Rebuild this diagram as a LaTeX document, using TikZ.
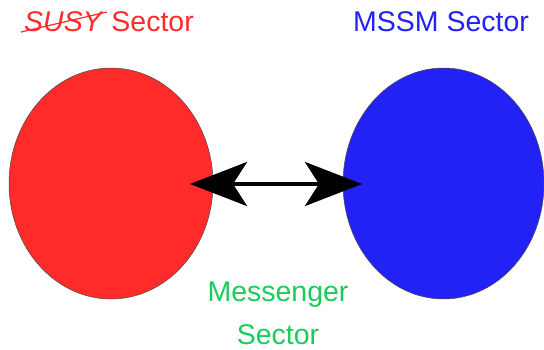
\documentclass[tikz,border=0pt]{standalone}
\usepackage{fontspec}
\setmainfont{Liberation Sans}
\usetikzlibrary{arrows.meta}
\definecolor{sred}{HTML}{FF2A2A}
\definecolor{sblue}{HTML}{2222F6}
\definecolor{sgreen}{HTML}{1BCB5B}
\tikzset{
  sector/.style={draw=black!70, line width=0.5pt},
  label/.style={font=\fontsize{28.5}{34}\selectfont, inner sep=0pt, anchor=base},
  link/.style={line width=4pt, {Stealth[length=57pt,width=44pt,inset=14pt]}-{Stealth[length=57pt,width=44pt,inset=14pt]}}
}
\begin{document}
\begin{tikzpicture}[x=1pt,y=-1pt]
  \useasboundingbox (0,0) rectangle (544,349);
  % the two sectors
  \fill[sred, sector] (111,183.5) ellipse [x radius=102, y radius=115.5];
  \fill[sblue, sector] (443.5,183.5) ellipse [x radius=100.5, y radius=115.5];
  \coordinate (left) at (190,184);
  \coordinate (right) at (362,184);
  \draw[link] (left) -- (right);
  % labels
  \node[label, text=sred] (susy) at (109,31) {\textit{SUSY} Sector};
  % strike-through across the word SUSY
  \draw[sred, line width=1.2pt] ([xshift=-3pt,yshift=-1pt]susy.base west) -- ([xshift=83pt,yshift=19pt]susy.base west);
  \node[label, text=sblue] (mssm) at (441,31) {MSSM Sector};
  \node[label, text=sgreen] (mess) at (278,301) {Messenger};
  \node[label, text=sgreen] (sect) at (278,344) {Sector};
\end{tikzpicture}
\end{document}
